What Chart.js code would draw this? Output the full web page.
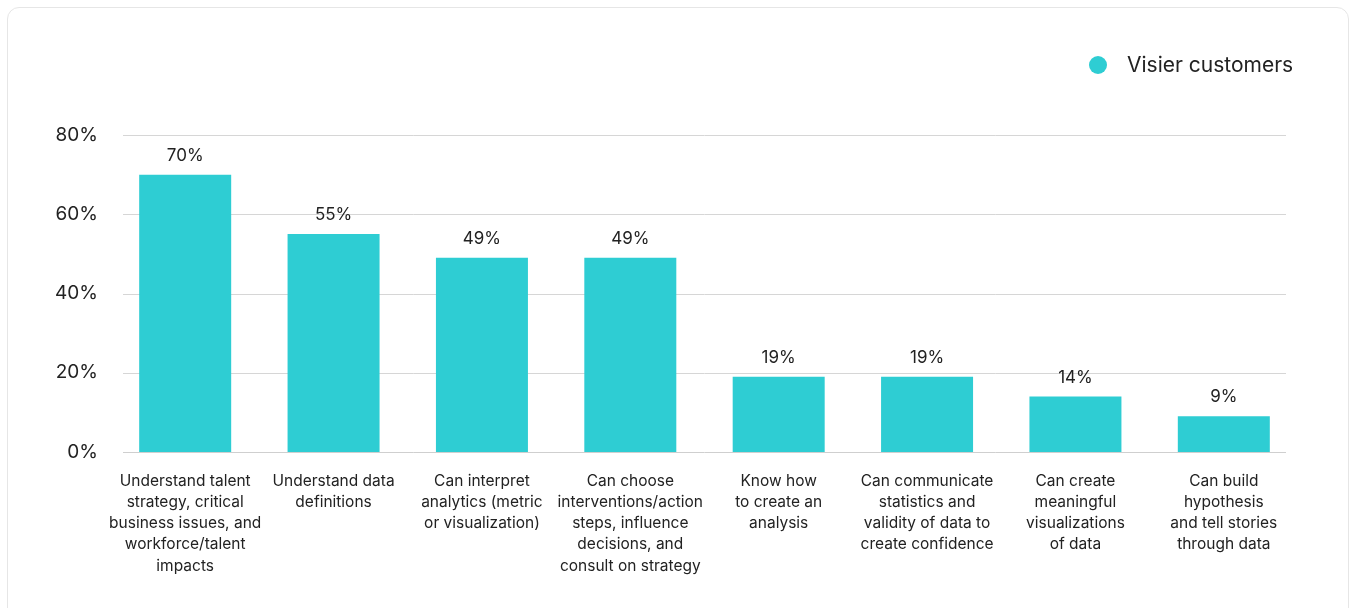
<!DOCTYPE html>
<html>
<head>
<meta charset="utf-8">
<script src="https://cdn.jsdelivr.net/npm/chart.js@4/dist/chart.umd.min.js"></script>
<style>
  html, body { margin: 0; padding: 0; background: #ffffff; }
  body { width: 1349px; height: 608px; position: relative; overflow: hidden; }
  .card {
    position: absolute; left: 7px; top: 7px; width: 1340px; height: 640px;
    border: 1px solid #e6e6e6; border-radius: 12px; background: #ffffff;
  }
  #chart { position: absolute; left: 0; top: 0; }
</style>
</head>
<body>
<div class="card"></div>
<canvas id="chart" width="1349" height="608"></canvas>
<script>
// Skills reported by Visier customers (share of respondents)
const categories = [
  ["Understand talent", "strategy, critical", "business issues, and", "workforce/talent", "impacts"],
  ["Understand data", "definitions"],
  ["Can interpret", "analytics (metric", "or visualization)"],
  ["Can choose", "interventions/action", "steps, influence", "decisions, and", "consult on strategy"],
  ["Know how", "to create an", "analysis"],
  ["Can communicate", "statistics and", "validity of data to", "create confidence"],
  ["Can create", "meaningful", "visualizations", "of data"],
  ["Can build", "hypothesis", "and tell stories", "through data"]
];
const seriesName = "Visier customers";
const customerShare = [70, 55, 49, 49, 19, 19, 14, 9];
const yTickValues = [0, 20, 40, 60, 80];

const TEAL = "#2ecdd3";
const INK = "#222222";
const FONT = "Inter, 'Noto Sans', sans-serif";

// Horizontal gridlines, inset slightly from the plot edges
const insetGrid = {
  id: "insetGrid",
  beforeDatasetsDraw(chart) {
    const { ctx, chartArea, scales } = chart;
    const y = scales.y;
    ctx.save();
    ctx.lineWidth = 1;
    yTickValues.forEach(v => {
      const py = Math.round(y.getPixelForValue(v)) + 0.5;
      ctx.strokeStyle = v === 0 ? "#cfcfcf" : "#d6d6d6";
      ctx.beginPath();
      ctx.moveTo(chartArea.left + 12, py);
      ctx.lineTo(chartArea.right - 12, py);
      ctx.stroke();
    });
    ctx.restore();
  }
};

// Percentage labels above each bar
const valueLabels = {
  id: "valueLabels",
  afterDatasetsDraw(chart) {
    const { ctx } = chart;
    ctx.save();
    ctx.font = "17px " + FONT;
    ctx.fillStyle = INK;
    ctx.textAlign = "center";
    ctx.textBaseline = "middle";
    chart.data.datasets.forEach((ds, di) => {
      chart.getDatasetMeta(di).data.forEach((bar, i) => {
        ctx.fillText(ds.data[i] + "%", bar.x, bar.y - 19);
      });
    });
    ctx.restore();
  }
};

// Legend entry in the top-right corner
const cornerLegend = {
  id: "cornerLegend",
  afterDraw(chart) {
    const { ctx } = chart;
    const ds = chart.data.datasets[0];
    ctx.save();
    ctx.fillStyle = ds.backgroundColor;
    ctx.beginPath();
    ctx.arc(1098, 65, 9, 0, Math.PI * 2);
    ctx.fill();
    ctx.font = "21px " + FONT;
    ctx.fillStyle = INK;
    ctx.textAlign = "left";
    ctx.textBaseline = "middle";
    ctx.fillText(ds.label, 1127, 66);
    ctx.restore();
  }
};

new Chart(document.getElementById("chart"), {
  type: "bar",
  data: {
    labels: categories,
    datasets: [{
      label: seriesName,
      data: customerShare,
      backgroundColor: TEAL,
      borderWidth: 0,
      categoryPercentage: 1,
      barPercentage: 0.62
    }]
  },
  options: {
    responsive: false,
    animation: false,
    layout: { padding: { top: 135, right: 51, bottom: 0, left: 0 } },
    plugins: {
      legend: { display: false },
      tooltip: { enabled: false }
    },
    scales: {
      x: {
        grid: { display: false },
        border: { display: false },
        ticks: {
          color: INK,
          font: { family: FONT, size: 15.5, lineHeight: 1.36 },
          padding: 11,
          maxRotation: 0,
          autoSkip: false
        },
        afterFit(scale) { scale.height = 156; }
      },
      y: {
        min: 0,
        max: 80,
        grid: { display: false, drawTicks: false },
        border: { display: false },
        afterBuildTicks(scale) { scale.ticks = yTickValues.map(v => ({ value: v })); },
        ticks: {
          color: INK,
          font: { family: FONT, size: 19 },
          padding: 13,
          callback: v => v + "%"
        },
        afterFit(scale) { scale.width = 111; }
      }
    }
  },
  plugins: [insetGrid, valueLabels, cornerLegend]
});
</script>
</body>
</html>
